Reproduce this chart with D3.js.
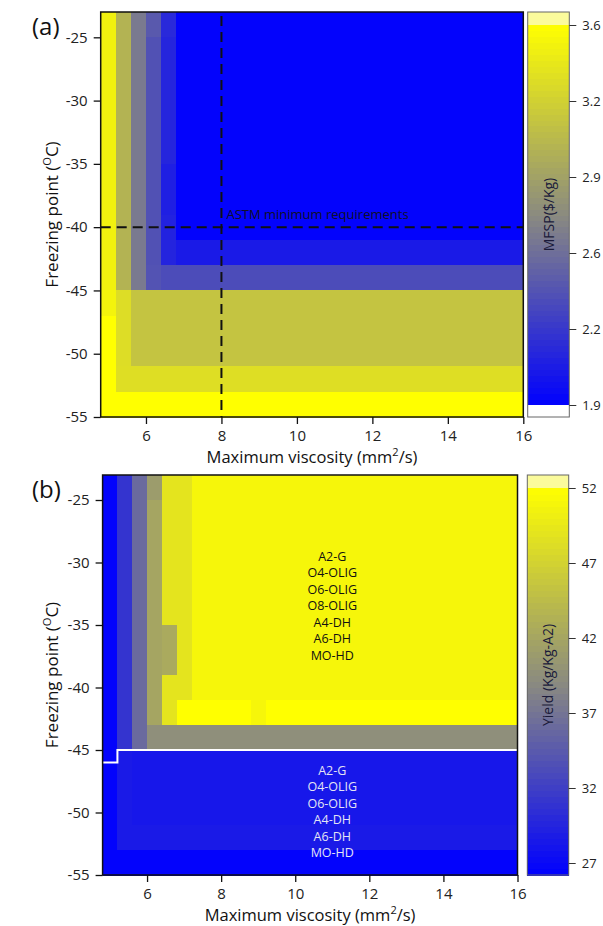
<!DOCTYPE html>
<html>
<head>
<meta charset="utf-8">
<script src="https://cdn.jsdelivr.net/npm/d3@7"></script>
<style>
body { margin: 0; background: #fff; }
svg text { font-family: "Open Sans", sans-serif; }
</style>
</head>
<body>
<svg id="fig" width="603" height="926"></svg>
<script>
// grid cell centres (viscosity mm2/s, freezing point C), top row first
const viscosity = [5.0, 5.4, 5.8, 6.2, 6.6, 7.0, 7.4, 7.8, 8.2, 8.6, 9.0, 9.4, 9.8, 10.2,
    10.6, 11.0, 11.4, 11.8, 12.2, 12.6, 13.0, 13.4, 13.8, 14.2, 14.6, 15.0, 15.4, 15.8];
const freezing = [-24, -26, -28, -30, -32, -34, -36, -38, -40, -42, -44, -46, -48, -50, -52, -54];
const xTicks = [6, 8, 10, 12, 14, 16];
const yTicks = [-25, -30, -35, -40, -45, -50, -55];

// MFSP ($/kg) per row, stored as runs of [value, count]
const mfspRuns = [
    [[3.5, 1], [3.05, 1], [2.65, 1], [2.45, 1], [2.15, 1], [1.92, 23]],
    [[3.5, 1], [3.05, 1], [2.65, 1], [2.4, 1], [2.13, 1], [1.92, 23]],
    [[3.5, 1], [3.05, 1], [2.65, 1], [2.4, 1], [2.13, 1], [1.92, 23]],
    [[3.5, 1], [3.05, 1], [2.65, 1], [2.4, 1], [2.13, 1], [1.92, 23]],
    [[3.5, 1], [3.05, 1], [2.65, 1], [2.4, 1], [2.13, 1], [1.92, 23]],
    [[3.5, 1], [3.05, 1], [2.65, 1], [2.4, 1], [2.13, 1], [1.92, 23]],
    [[3.5, 1], [3.05, 1], [2.65, 1], [2.4, 1], [2.09, 1], [1.92, 23]],
    [[3.5, 1], [3.05, 1], [2.65, 1], [2.4, 1], [2.09, 1], [1.92, 23]],
    [[3.5, 1], [3.05, 1], [2.65, 1], [2.4, 1], [2.11, 1], [1.92, 23]],
    [[3.5, 1], [3.05, 1], [2.65, 1], [2.4, 1], [2.12, 1], [2.06, 23]],
    [[3.5, 1], [3.05, 1], [2.65, 1], [2.41, 1], [2.37, 24]],
    [[3.52, 1], [3.35, 1], [3.17, 26]],
    [[3.6, 1], [3.35, 1], [3.17, 26]],
    [[3.6, 1], [3.35, 1], [3.17, 26]],
    [[3.6, 1], [3.36, 27]],
    [[3.6, 28]]
];
const mfspTickLabels = ["3.6", "3.2", "2.9", "2.6", "2.2", "1.9"];

// yield (kg/kg-A2) per row, runs of [value, count]
const yieldRuns = [
    [[26.5, 1], [31, 1], [36, 1], [41, 1], [49, 2], [51, 22]],
    [[26.5, 1], [31, 1], [36, 1], [42, 1], [49, 2], [51, 22]],
    [[26.5, 1], [31, 1], [36, 1], [42, 1], [49, 2], [51, 22]],
    [[26.5, 1], [31, 1], [36, 1], [42, 1], [49, 2], [51, 22]],
    [[26.5, 1], [31, 1], [36, 1], [42, 1], [49, 2], [51, 22]],
    [[26.5, 1], [31, 1], [36, 1], [42, 1], [49, 2], [51, 22]],
    [[26.5, 1], [31, 1], [36, 1], [42, 1], [42.5, 1], [49, 1], [51, 22]],
    [[26.5, 1], [31, 1], [36, 1], [42, 1], [42.5, 1], [49, 1], [51, 22]],
    [[26.5, 1], [31, 1], [36, 1], [42, 1], [49, 2], [51, 22]],
    [[26.5, 1], [31, 1], [36, 1], [42, 1], [49, 1], [52.3, 5], [51, 1], [52.3, 17]],
    [[26.5, 1], [31, 1], [36, 1], [39.5, 25]],
    [[26.5, 1], [28.6, 1], [28.3, 26]],
    [[26.5, 1], [28.6, 1], [28.3, 26]],
    [[26.5, 1], [28.6, 1], [28.3, 26]],
    [[26.5, 1], [28.6, 27]],
    [[26.5, 28]]
];
const yieldTicks = [52, 47, 42, 37, 32, 27];

// ASTM limits and the feasibility boundary in (b)
const astmViscosity = 8;
const astmFreezing = -40;
const boundaryX = [4.8, 5.2, 5.2, 16];
const boundaryY = [-46, -46, -45, -45];
const feasibleAbove = ["A2-G", "O4-OLIG", "O6-OLIG", "O8-OLIG", "A4-DH", "A6-DH", "MO-HD"];
const feasibleBelow = ["A2-G", "O4-OLIG", "O6-OLIG", "A4-DH", "A6-DH", "MO-HD"];

const svg = d3.select("#fig");
const expand = runs => runs.map(r => r.flatMap(([v, n]) => Array(n).fill(v)));

function panel(opt) {
    const g = svg.append("g");
    const x = d3.scaleLinear().domain([4.8, 16]).range([opt.left, opt.right]);
    const y = d3.scaleLinear().domain([-55, -23]).range([opt.bottom, opt.top]);
    const color = d3.scaleLinear().domain(opt.colorDomain)
        .range(["#0000ff", "#8a8a80", "#ffff00"]).clamp(true);

    const cells = [];
    expand(opt.runs).forEach((row, i) => row.forEach((v, j) => {
        cells.push({ vx: viscosity[j], fy: freezing[i], v: v });
    }));
    g.append("g").selectAll("rect").data(cells).join("rect")
        .attr("x", d => x(d.vx - 0.2))
        .attr("y", d => y(d.fy + 1))
        .attr("width", d => x(d.vx + 0.2) - x(d.vx - 0.2) + 0.5)
        .attr("height", d => y(d.fy - 1) - y(d.fy + 1) + 0.5)
        .attr("fill", d => color(d.v))
        .attr("shape-rendering", "crispEdges");

    opt.extra(g, x, y);

    // frame
    g.append("rect")
        .attr("x", opt.left).attr("y", opt.top)
        .attr("width", opt.right - opt.left).attr("height", opt.bottom - opt.top)
        .attr("fill", "none").attr("stroke", "#111").attr("stroke-width", 1.5);

    const plain = d => String(d);
    const xAxis = g.append("g").attr("transform", "translate(0," + opt.bottom + ")")
        .call(d3.axisBottom(x).tickValues(xTicks).tickFormat(plain).tickSize(7).tickPadding(6));
    const yAxis = g.append("g").attr("transform", "translate(" + opt.left + ",0)")
        .call(d3.axisLeft(y).tickValues(yTicks).tickFormat(plain).tickSize(7).tickPadding(6));
    [xAxis, yAxis].forEach(a => {
        a.select(".domain").remove();
        a.selectAll("line").attr("stroke", "#111").attr("stroke-width", 1.3);
        a.selectAll("text").attr("fill", "#222").style("font-size", "15px")
            .style("font-family", "'Open Sans', sans-serif");
    });

    // axis titles
    const xt = g.append("text")
        .attr("x", (opt.left + opt.right) / 2).attr("y", opt.bottom + 46)
        .attr("text-anchor", "middle").attr("fill", "#111").style("font-size", "16.5px");
    xt.append("tspan").text("Maximum viscosity (mm");
    xt.append("tspan").attr("dy", -7).style("font-size", "11px").text("2");
    xt.append("tspan").attr("dy", 7).text("/s)");

    const yt = g.append("text")
        .attr("transform", "translate(58," + (opt.top + opt.bottom) / 2 + ") rotate(-90)")
        .attr("text-anchor", "middle").attr("fill", "#111").style("font-size", "17px");
    yt.append("tspan").text("Freezing point (");
    yt.append("tspan").attr("dy", -7).style("font-size", "11px").text("O");
    yt.append("tspan").attr("dy", 7).text("C)");

    g.append("text").attr("x", 32).attr("y", opt.top + 23)
        .attr("fill", "#111").style("font-size", "24px").text(opt.tag);

    // colour bar
    const cb = opt.cbar;
    const cbY = d3.scaleLinear().domain(cb.domain).range(cb.range);
    const lo = cb.floor ? cb.domain[0] : cbY.invert(opt.bottom);
    const hi = cb.domain[1];
    const n = 64;
    const bands = d3.range(n).map(k => lo + (hi - lo) * k / n);
    const step = (hi - lo) / n;
    g.append("g").selectAll("rect").data(bands).join("rect")
        .attr("x", cb.x0).attr("width", cb.x1 - cb.x0)
        .attr("y", d => cbY(d + step))
        .attr("height", d => cbY(d) - cbY(d + step) + 0.5)
        .attr("fill", d => color(d + step / 2))
        .attr("shape-rendering", "crispEdges");
    g.append("rect").attr("x", cb.x0).attr("width", cb.x1 - cb.x0)
        .attr("y", opt.top).attr("height", cbY(hi) - opt.top)
        .attr("fill", "#fbfb9c");
    if (cb.floor) {
        g.append("rect").attr("x", cb.x0).attr("width", cb.x1 - cb.x0)
            .attr("y", cbY(lo)).attr("height", opt.bottom - cbY(lo))
            .attr("fill", cb.floor);
    }
    g.append("rect").attr("x", cb.x0).attr("y", opt.top)
        .attr("width", cb.x1 - cb.x0).attr("height", opt.bottom - opt.top)
        .attr("fill", "none").attr("stroke", "#666").attr("stroke-width", 1);

    const tickScale = cb.labels
        ? d3.scalePoint().domain(cb.labels).range(cb.range.slice().reverse())
        : cbY;
    const cbAxis = g.append("g").attr("transform", "translate(" + cb.x1 + ",0)")
        .call(d3.axisRight(tickScale).tickValues(cb.labels || cb.ticks).tickFormat(plain)
            .tickSize(7).tickPadding(6));
    cbAxis.select(".domain").remove();
    cbAxis.selectAll("line").attr("stroke", "#333");
    cbAxis.selectAll("text").attr("fill", "#222").style("font-size", "13px")
        .style("font-family", "'Open Sans', sans-serif");

    g.append("text")
        .attr("transform", "translate(" + ((cb.x0 + cb.x1) / 2 + 5) + "," + (opt.top + opt.bottom) / 2 + ") rotate(-90)")
        .attr("text-anchor", "middle").attr("fill", "#1a1a3a").style("font-size", "14px")
        .text(cb.title);
}

panel({
    tag: "(a)", left: 100.7, right: 523.3, top: 12, bottom: 417,
    runs: mfspRuns, colorDomain: [1.9, 2.75, 3.6],
    cbar: { x0: 527.7, x1: 569.3, domain: [1.9, 3.6], range: [405, 25], floor: "#fff",
        labels: mfspTickLabels, title: "MFSP($/Kg)" },
    extra: (g, x, y) => {
        g.append("line")
            .attr("x1", x(astmViscosity)).attr("x2", x(astmViscosity))
            .attr("y1", y(-23) + 4).attr("y2", y(-55))
            .attr("stroke", "#111").attr("stroke-width", 2).attr("stroke-dasharray", "10,6");
        g.append("line")
            .attr("x1", x(4.8)).attr("x2", x(16))
            .attr("y1", y(astmFreezing)).attr("y2", y(astmFreezing))
            .attr("stroke", "#111").attr("stroke-width", 2).attr("stroke-dasharray", "10,6");
        g.append("text")
            .attr("x", x(astmViscosity) + 5).attr("y", y(astmFreezing) - 8)
            .attr("fill", "#101028").style("font-size", "13px")
            .text("ASTM minimum requirements");
    }
});

panel({
    tag: "(b)", left: 102.6, right: 517.5, top: 475, bottom: 875,
    runs: yieldRuns, colorDomain: [26.2, 39, 52],
    cbar: { x0: 527.3, x1: 568.7, domain: [27, 52], range: [863, 488], floor: null,
        ticks: yieldTicks, title: "Yield (Kg/Kg-A2)" },
    extra: (g, x, y) => {
        const pts = boundaryX.map((v, i) => [v, boundaryY[i]]);
        g.append("path")
            .attr("d", d3.line().x(d => x(d[0])).y(d => y(d[1]))(pts))
            .attr("fill", "none").attr("stroke", "#fff").attr("stroke-width", 2);
        g.append("g").selectAll("text").data(feasibleAbove).join("text")
            .attr("x", x(11)).attr("y", (d, i) => y(-29.5) + i * 16.5)
            .attr("text-anchor", "middle").attr("dominant-baseline", "central")
            .attr("fill", "#111").style("font-size", "12.5px").text(d => d);
        g.append("g").selectAll("text").data(feasibleBelow).join("text")
            .attr("x", x(11)).attr("y", (d, i) => y(-46.6) + i * 16.5)
            .attr("text-anchor", "middle").attr("dominant-baseline", "central")
            .attr("fill", "#e4e4f4").style("font-size", "12.5px").text(d => d);
    }
});
</script>
</body>
</html>
